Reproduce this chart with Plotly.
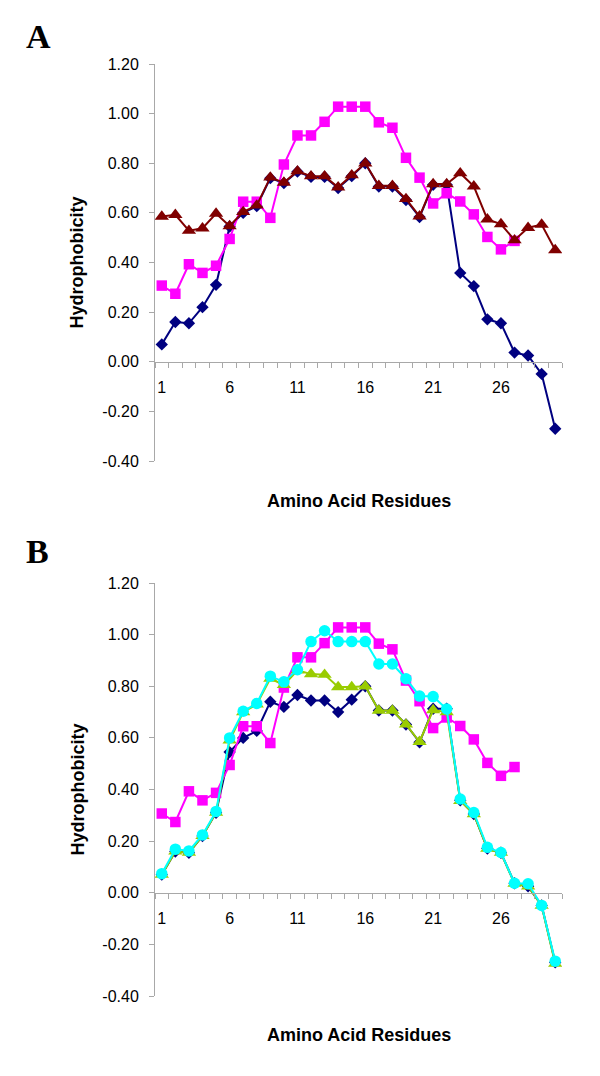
import plotly.graph_objects as go

residues = list(range(1, 31))

# Panel A
a_navy = [0.07, 0.16, 0.155, 0.22, 0.31, 0.545, 0.60, 0.627, 0.74, 0.72,
          0.766, 0.745, 0.745, 0.70, 0.748, 0.80, 0.706, 0.706, 0.652, 0.583,
          0.713, 0.713, 0.358, 0.305, 0.171, 0.155, 0.037, 0.025, -0.049, -0.27]
a_magenta = [0.307, 0.274, 0.393, 0.358, 0.387, 0.495, 0.645, 0.645, 0.58, 0.795,
             0.912, 0.912, 0.967, 1.028, 1.028, 1.028, 0.965, 0.943, 0.822, 0.742,
             0.638, 0.679, 0.646, 0.594, 0.503, 0.453, 0.487]
a_maroon = [0.585, 0.592, 0.528, 0.538, 0.597, 0.547, 0.604, 0.63, 0.743, 0.722,
            0.768, 0.748, 0.748, 0.703, 0.752, 0.80, 0.709, 0.709, 0.656, 0.586,
            0.716, 0.716, 0.76, 0.707, 0.574, 0.555, 0.49, 0.54, 0.553, 0.45]

# Panel B
b_navy = a_navy
b_magenta = a_magenta
b_green = [0.07, 0.16, 0.155, 0.22, 0.31, 0.59, 0.70, 0.73, 0.83, 0.805,
           0.862, 0.847, 0.845, 0.797, 0.797, 0.80, 0.706, 0.706, 0.652, 0.585,
           0.708, 0.70, 0.356, 0.305, 0.171, 0.155, 0.035, 0.025, -0.05, -0.275]
b_cyan = [0.074, 0.169, 0.162, 0.224, 0.315, 0.60, 0.703, 0.733, 0.839, 0.817,
          0.864, 0.973, 1.015, 0.973, 0.973, 0.973, 0.886, 0.886, 0.829, 0.762,
          0.76, 0.712, 0.363, 0.311, 0.176, 0.156, 0.037, 0.035, -0.049, -0.265]

y_tickvals = [-0.4, -0.2, 0.0, 0.2, 0.4, 0.6, 0.8, 1.0, 1.2]
y_ticktext = ["-0.40", "-0.20", "0.00", "0.20", "0.40", "0.60", "0.80", "1.00", "1.20"]
x_tickvals = [1, 6, 11, 16, 21, 26]
x_ticktext = ["1", "6", "11", "16", "21", "26"]

Y_RANGE = [-0.4, 1.2]
X_RANGE = [0.5, 30.5]

W, H = 600, 1076
XDOM = [155 / W, 562 / W]
A_DOM = [1 - 461 / H, 1 - 64 / H]
B_DOM = [1 - 996 / H, 1 - 583 / H]

AXIS_GRAY = "#A8A8A8"
FONT = "Liberation Sans, Arial, sans-serif"

fig = go.Figure()


def add_series(x, y, color, symbol, size, xa, ya):
    fig.add_trace(go.Scatter(
        x=x[:len(y)], y=y, mode="lines+markers",
        line=dict(color=color, width=2),
        marker=dict(symbol=symbol, size=size, color=color, line=dict(width=0)),
        xaxis=xa, yaxis=ya, showlegend=False, hoverinfo="x+y"))


# Panel A traces
add_series(residues, a_navy, "#000080", "diamond", 9.5, "x", "y")
add_series(residues, a_magenta, "#FF00FF", "square", 10.5, "x", "y")
add_series(residues, a_maroon, "#800000", "triangle-up", 12.5, "x", "y")

# Panel B traces
add_series(residues, b_navy, "#000080", "diamond", 9.5, "x2", "y2")
add_series(residues, b_magenta, "#FF00FF", "square", 10.5, "x2", "y2")
add_series(residues, b_green, "#99CC00", "triangle-up", 12.5, "x2", "y2")
add_series(residues, b_cyan, "#00FFFF", "circle", 11.5, "x2", "y2")


def zero_pos(dom):
    return dom[0] + (dom[1] - dom[0]) * (0 - Y_RANGE[0]) / (Y_RANGE[1] - Y_RANGE[0])


def xaxis_cfg(dom):
    return dict(
        domain=XDOM, range=X_RANGE, anchor="free", position=zero_pos(dom),
        showline=True, linecolor=AXIS_GRAY, linewidth=1,
        tickmode="array", tickvals=x_tickvals, ticktext=x_ticktext,
        ticks="", showgrid=False, zeroline=False,
        tickfont=dict(family=FONT, size=16, color="black"),
        ticklabelstandoff=11,
        minor=dict(tickvals=[i + 0.5 for i in range(0, 31)], ticks="outside",
                   ticklen=5, tickcolor=AXIS_GRAY, tickwidth=1, showgrid=False),
        automargin=False, fixedrange=True)


def yaxis_cfg(dom, xa):
    return dict(
        domain=dom, range=Y_RANGE, anchor=xa,
        showline=True, linecolor=AXIS_GRAY, linewidth=1,
        tickmode="array", tickvals=y_tickvals, ticktext=y_ticktext,
        ticks="outside", ticklen=5, tickcolor=AXIS_GRAY, tickwidth=1,
        showgrid=False, zeroline=False,
        tickfont=dict(family=FONT, size=16, color="black"),
        ticklabelstandoff=7,
        automargin=False, fixedrange=True)


fig.update_layout(
    width=W, height=H,
    margin=dict(l=0, r=0, t=0, b=0),
    paper_bgcolor="white", plot_bgcolor="white",
    xaxis=xaxis_cfg(A_DOM), yaxis=yaxis_cfg(A_DOM, "x"),
    xaxis2=xaxis_cfg(B_DOM), yaxis2=yaxis_cfg(B_DOM, "x2"),
)

xmid = (XDOM[0] + XDOM[1]) / 2
SERIF = "Liberation Serif, Times New Roman, serif"
annots = [
    dict(text="<b>A</b>", x=38 / W, y=1 - 36 / H, font=dict(family=SERIF, size=34)),
    dict(text="<b>B</b>", x=37 / W, y=1 - 551 / H, font=dict(family=SERIF, size=34)),
    dict(text="<b>Hydrophobicity</b>", x=77 / W, y=(A_DOM[0] + A_DOM[1]) / 2, textangle=-90,
         font=dict(family=FONT, size=18)),
    dict(text="<b>Hydrophobicity</b>", x=77 / W, y=(B_DOM[0] + B_DOM[1]) / 2, textangle=-90,
         font=dict(family=FONT, size=18)),
    dict(text="<b>Amino Acid Residues</b>", x=xmid, y=1 - 501 / H, font=dict(family=FONT, size=18)),
    dict(text="<b>Amino Acid Residues</b>", x=xmid, y=1 - 1035 / H, font=dict(family=FONT, size=18)),
]
for a in annots:
    a.update(xref="paper", yref="paper", showarrow=False, xanchor="center", yanchor="middle")
    a["font"]["color"] = "black"
fig.update_layout(annotations=annots)

fig.write_html("out.html",
               config={"displayModeBar": False},
               post_script="document.body.style.margin='0';document.body.style.overflow='hidden';")
